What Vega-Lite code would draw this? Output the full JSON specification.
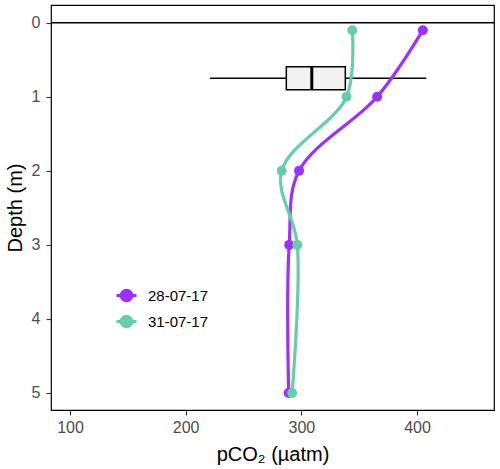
{
  "$schema": "https://vega.github.io/schema/vega-lite/v6.json",
  "autosize": "none",
  "width": 443,
  "height": 405,
  "padding": {"left": 51, "top": 5, "right": 6, "bottom": 59},
  "config": {
    "font": "Liberation Sans",
    "view": {"stroke": "#000000", "strokeWidth": 1.2},
    "axis": {
      "grid": false,
      "domain": false,
      "tickColor": "#333333",
      "tickSize": 5,
      "tickWidth": 1.1,
      "labelColor": "#4D4D4D",
      "labelFontSize": 16,
      "titleColor": "#000000",
      "titleFontSize": 20,
      "titleFontWeight": "normal"
    }
  },
  "datasets": {
    "profiles": [
      {"date": "28-07-17", "depth": 0.1, "pco2": 405},
      {"date": "28-07-17", "depth": 1, "pco2": 365.5},
      {"date": "28-07-17", "depth": 2, "pco2": 298},
      {"date": "28-07-17", "depth": 3, "pco2": 289.5},
      {"date": "28-07-17", "depth": 5, "pco2": 289},
      {"date": "31-07-17", "depth": 0.1, "pco2": 344},
      {"date": "31-07-17", "depth": 1, "pco2": 339},
      {"date": "31-07-17", "depth": 2, "pco2": 283},
      {"date": "31-07-17", "depth": 3, "pco2": 296.5},
      {"date": "31-07-17", "depth": 5, "pco2": 292}
    ],
    "summary": [
      {"depth": 0.75, "low": 221, "q1": 287, "median": 309, "q3": 338, "high": 408}
    ],
    "surface": [{"depth": 0}]
  },
  "encoding": {
    "y": {
      "type": "quantitative",
      "scale": {"domain": [-0.24, 5.23], "reverse": true, "nice": false, "zero": false, "padding": 0},
      "axis": {"values": [0, 1, 2, 3, 4, 5], "title": "Depth (m)", "titlePadding": 6, "labelPadding": 6}
    }
  },
  "layer": [
    {
      "data": {"name": "surface"},
      "mark": {"type": "rule", "color": "#000000", "strokeWidth": 1.5},
      "encoding": {"y": {"field": "depth"}}
    },
    {
      "data": {"name": "summary"},
      "mark": {"type": "rule", "color": "#000000", "strokeWidth": 1.5},
      "encoding": {
        "y": {"field": "depth"},
        "x": {"field": "low", "type": "quantitative"},
        "x2": {"field": "high"}
      }
    },
    {
      "data": {"name": "summary"},
      "mark": {"type": "bar", "fill": "#F2F2F2", "stroke": "#000000", "strokeWidth": 1.5, "size": 23},
      "encoding": {
        "y": {"field": "depth"},
        "x": {"field": "q1", "type": "quantitative"},
        "x2": {"field": "q3"}
      }
    },
    {
      "data": {"name": "summary"},
      "mark": {"type": "tick", "orient": "vertical", "color": "#000000", "size": 23, "thickness": 3, "opacity": 1},
      "encoding": {
        "y": {"field": "depth"},
        "x": {"field": "median", "type": "quantitative"}
      }
    },
    {
      "data": {"name": "profiles"},
      "mark": {"type": "line", "interpolate": "catmull-rom", "strokeWidth": 3.2},
      "encoding": {
        "y": {"field": "depth"},
        "x": {"field": "pco2", "type": "quantitative"},
        "order": {"field": "depth", "type": "quantitative"},
        "color": {"field": "date", "type": "nominal"}
      }
    },
    {
      "data": {"name": "profiles"},
      "mark": {"type": "point", "filled": true, "opacity": 1, "size": 100},
      "encoding": {
        "y": {"field": "depth"},
        "x": {
          "field": "pco2",
          "type": "quantitative",
          "scale": {"domain": [83.6, 466.5], "nice": false, "zero": false, "padding": 0},
          "axis": {"values": [100, 200, 300, 400], "title": "pCO₂ (µatm)", "titlePadding": 9, "labelPadding": 4}
        },
        "color": {
          "field": "date",
          "type": "nominal",
          "scale": {"domain": ["28-07-17", "31-07-17"], "range": ["#9B30FF", "#66CDAA"]},
          "legend": {
            "title": null,
            "orient": "none",
            "legendX": 67,
            "legendY": 282,
            "labelFontSize": 15,
            "labelColor": "#000000",
            "labelOffset": 13,
            "rowPadding": 3,
            "symbolType": "M-1.5,0H1.5M-0.8,0A0.8,0.8 0 1,1 0.8,0A0.8,0.8 0 1,1 -0.8,0Z",
            "symbolSize": 178,
            "symbolStrokeWidth": 3,
            "symbolOpacity": 1
          }
        }
      }
    }
  ]
}
